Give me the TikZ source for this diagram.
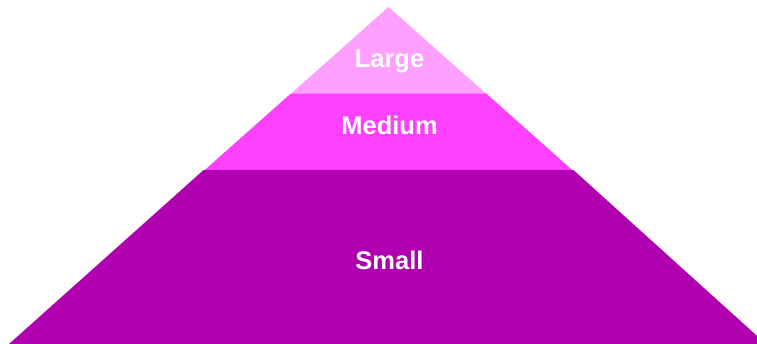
\documentclass[tikz,border=0pt]{standalone}
\usepackage{fontspec}
\setmainfont{Liberation Sans}
\definecolor{largec}{HTML}{FF9FFF}
\definecolor{mediumc}{HTML}{FF40FF}
\definecolor{smallc}{HTML}{B000B0}
\begin{document}
\begin{tikzpicture}[x=1pt,y=1pt,
  lbl/.style={text=white,font=\bfseries\fontsize{25.5}{29}\selectfont,anchor=base,inner sep=0pt}]
\useasboundingbox (0,0) rectangle (757,344);
% apex (388,337), base (10,1)-(766,1); slope dx/dy = 378/336
\coordinate (apex) at (388.5,337);
\fill[largec] (apex) -- (290.6,250) -- (386.4,250) -- (486.4,250) -- cycle;
\fill[mediumc] (290.6,250.3) -- (486.4,250.3) -- (572.8,173.5) -- (204.2,173.5) -- cycle;
\fill[smallc] (203.4,173.8) -- (573.6,173.8) -- (766,0) -- (9,0) -- cycle;
\node[lbl] (large) at (389.5,276) {Large};
\node[lbl] (medium) at (389.5,209) {Medium};
\node[lbl] (small) at (389.5,74.5) {Small};
\end{tikzpicture}
\end{document}
